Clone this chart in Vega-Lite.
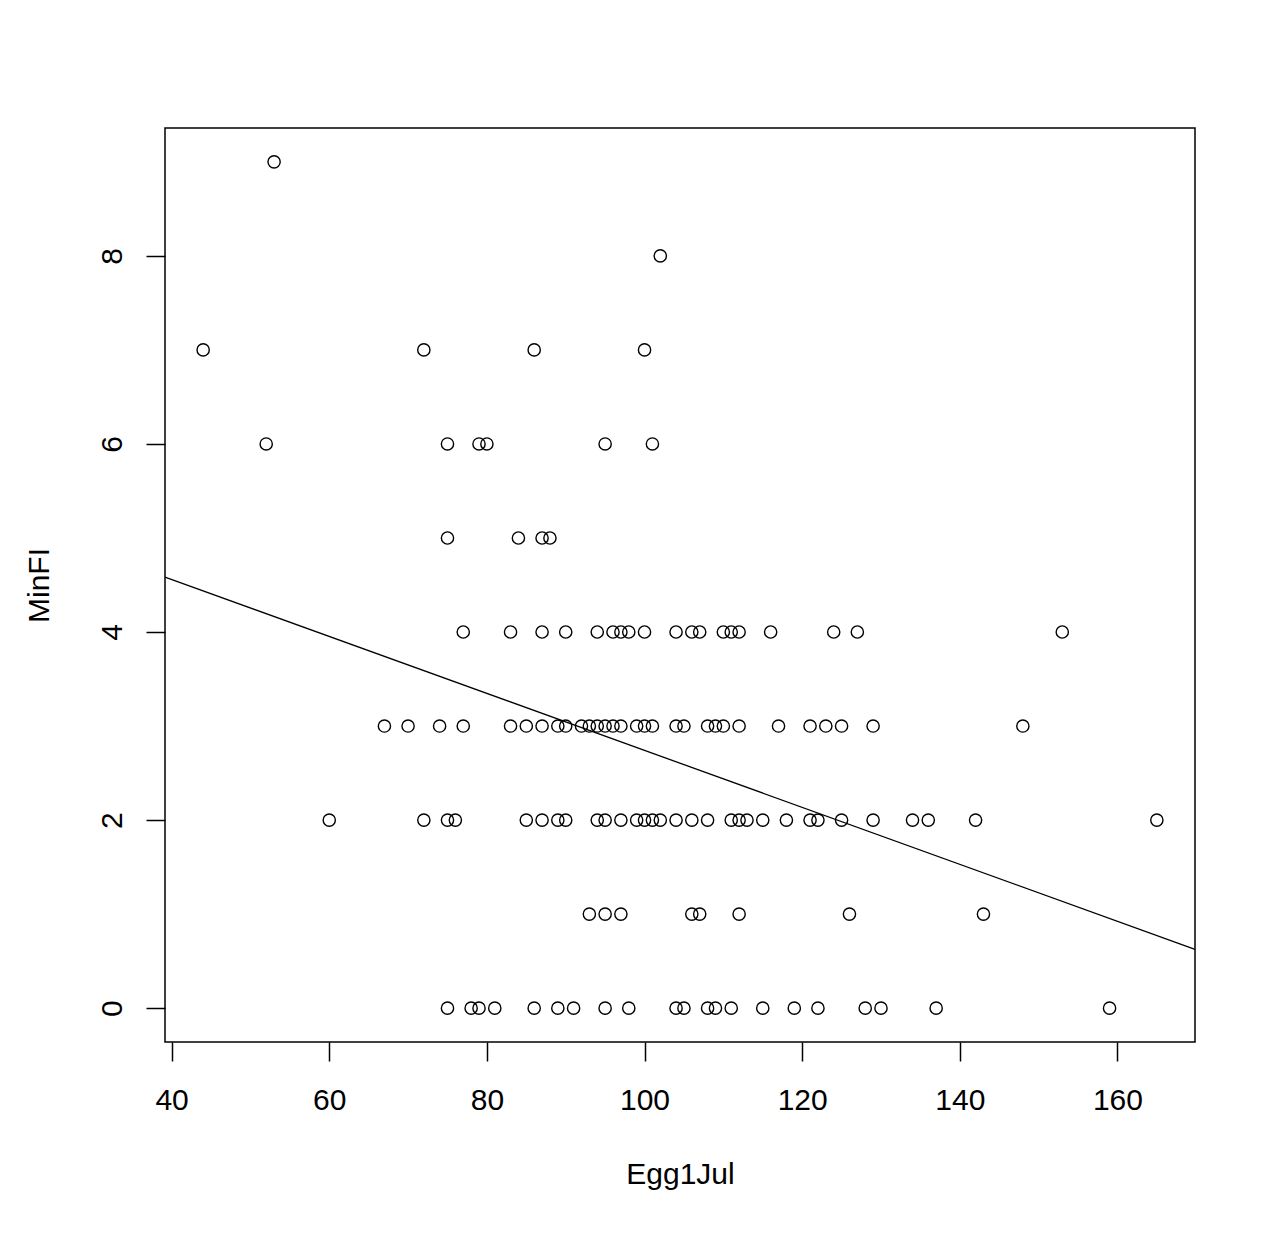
{
  "$schema": "https://vega.github.io/schema/vega-lite/v6.json",
  "autosize": {"type": "none"},
  "padding": {"left": 165, "top": 128, "right": 83, "bottom": 197},
  "width": 1030,
  "height": 914,
  "background": "white",
  "config": {
    "font": "Liberation Sans",
    "view": {"stroke": "#000000", "strokeWidth": 1.5}
  },
  "datasets": {
    "pts": [
      {"Egg1Jul": 53, "MinFI": 9},
      {"Egg1Jul": 102, "MinFI": 8},
      {"Egg1Jul": 44, "MinFI": 7}, {"Egg1Jul": 72, "MinFI": 7}, {"Egg1Jul": 86, "MinFI": 7}, {"Egg1Jul": 100, "MinFI": 7},
      {"Egg1Jul": 52, "MinFI": 6}, {"Egg1Jul": 75, "MinFI": 6}, {"Egg1Jul": 79, "MinFI": 6}, {"Egg1Jul": 80, "MinFI": 6}, {"Egg1Jul": 95, "MinFI": 6}, {"Egg1Jul": 101, "MinFI": 6},
      {"Egg1Jul": 75, "MinFI": 5}, {"Egg1Jul": 84, "MinFI": 5}, {"Egg1Jul": 87, "MinFI": 5}, {"Egg1Jul": 88, "MinFI": 5},
      {"Egg1Jul": 77, "MinFI": 4}, {"Egg1Jul": 83, "MinFI": 4}, {"Egg1Jul": 87, "MinFI": 4}, {"Egg1Jul": 90, "MinFI": 4}, {"Egg1Jul": 94, "MinFI": 4}, {"Egg1Jul": 96, "MinFI": 4}, {"Egg1Jul": 97, "MinFI": 4}, {"Egg1Jul": 98, "MinFI": 4}, {"Egg1Jul": 100, "MinFI": 4}, {"Egg1Jul": 104, "MinFI": 4}, {"Egg1Jul": 106, "MinFI": 4}, {"Egg1Jul": 107, "MinFI": 4}, {"Egg1Jul": 110, "MinFI": 4}, {"Egg1Jul": 111, "MinFI": 4}, {"Egg1Jul": 112, "MinFI": 4}, {"Egg1Jul": 116, "MinFI": 4}, {"Egg1Jul": 124, "MinFI": 4}, {"Egg1Jul": 127, "MinFI": 4}, {"Egg1Jul": 153, "MinFI": 4},
      {"Egg1Jul": 67, "MinFI": 3}, {"Egg1Jul": 70, "MinFI": 3}, {"Egg1Jul": 74, "MinFI": 3}, {"Egg1Jul": 77, "MinFI": 3}, {"Egg1Jul": 83, "MinFI": 3}, {"Egg1Jul": 85, "MinFI": 3}, {"Egg1Jul": 87, "MinFI": 3}, {"Egg1Jul": 89, "MinFI": 3}, {"Egg1Jul": 90, "MinFI": 3}, {"Egg1Jul": 92, "MinFI": 3}, {"Egg1Jul": 93, "MinFI": 3}, {"Egg1Jul": 94, "MinFI": 3}, {"Egg1Jul": 95, "MinFI": 3}, {"Egg1Jul": 96, "MinFI": 3}, {"Egg1Jul": 97, "MinFI": 3}, {"Egg1Jul": 99, "MinFI": 3}, {"Egg1Jul": 100, "MinFI": 3}, {"Egg1Jul": 101, "MinFI": 3}, {"Egg1Jul": 104, "MinFI": 3}, {"Egg1Jul": 105, "MinFI": 3}, {"Egg1Jul": 108, "MinFI": 3}, {"Egg1Jul": 109, "MinFI": 3}, {"Egg1Jul": 110, "MinFI": 3}, {"Egg1Jul": 112, "MinFI": 3}, {"Egg1Jul": 117, "MinFI": 3}, {"Egg1Jul": 121, "MinFI": 3}, {"Egg1Jul": 123, "MinFI": 3}, {"Egg1Jul": 125, "MinFI": 3}, {"Egg1Jul": 129, "MinFI": 3}, {"Egg1Jul": 148, "MinFI": 3},
      {"Egg1Jul": 60, "MinFI": 2}, {"Egg1Jul": 72, "MinFI": 2}, {"Egg1Jul": 75, "MinFI": 2}, {"Egg1Jul": 76, "MinFI": 2}, {"Egg1Jul": 85, "MinFI": 2}, {"Egg1Jul": 87, "MinFI": 2}, {"Egg1Jul": 89, "MinFI": 2}, {"Egg1Jul": 90, "MinFI": 2}, {"Egg1Jul": 94, "MinFI": 2}, {"Egg1Jul": 95, "MinFI": 2}, {"Egg1Jul": 97, "MinFI": 2}, {"Egg1Jul": 99, "MinFI": 2}, {"Egg1Jul": 100, "MinFI": 2}, {"Egg1Jul": 101, "MinFI": 2}, {"Egg1Jul": 102, "MinFI": 2}, {"Egg1Jul": 104, "MinFI": 2}, {"Egg1Jul": 106, "MinFI": 2}, {"Egg1Jul": 108, "MinFI": 2}, {"Egg1Jul": 111, "MinFI": 2}, {"Egg1Jul": 112, "MinFI": 2}, {"Egg1Jul": 113, "MinFI": 2}, {"Egg1Jul": 115, "MinFI": 2}, {"Egg1Jul": 118, "MinFI": 2}, {"Egg1Jul": 121, "MinFI": 2}, {"Egg1Jul": 122, "MinFI": 2}, {"Egg1Jul": 125, "MinFI": 2}, {"Egg1Jul": 129, "MinFI": 2}, {"Egg1Jul": 134, "MinFI": 2}, {"Egg1Jul": 136, "MinFI": 2}, {"Egg1Jul": 142, "MinFI": 2}, {"Egg1Jul": 165, "MinFI": 2},
      {"Egg1Jul": 93, "MinFI": 1}, {"Egg1Jul": 95, "MinFI": 1}, {"Egg1Jul": 97, "MinFI": 1}, {"Egg1Jul": 106, "MinFI": 1}, {"Egg1Jul": 107, "MinFI": 1}, {"Egg1Jul": 112, "MinFI": 1}, {"Egg1Jul": 126, "MinFI": 1}, {"Egg1Jul": 143, "MinFI": 1},
      {"Egg1Jul": 75, "MinFI": 0}, {"Egg1Jul": 78, "MinFI": 0}, {"Egg1Jul": 79, "MinFI": 0}, {"Egg1Jul": 81, "MinFI": 0}, {"Egg1Jul": 86, "MinFI": 0}, {"Egg1Jul": 89, "MinFI": 0}, {"Egg1Jul": 91, "MinFI": 0}, {"Egg1Jul": 95, "MinFI": 0}, {"Egg1Jul": 98, "MinFI": 0}, {"Egg1Jul": 104, "MinFI": 0}, {"Egg1Jul": 105, "MinFI": 0}, {"Egg1Jul": 108, "MinFI": 0}, {"Egg1Jul": 109, "MinFI": 0}, {"Egg1Jul": 111, "MinFI": 0}, {"Egg1Jul": 115, "MinFI": 0}, {"Egg1Jul": 119, "MinFI": 0}, {"Egg1Jul": 122, "MinFI": 0}, {"Egg1Jul": 128, "MinFI": 0}, {"Egg1Jul": 130, "MinFI": 0}, {"Egg1Jul": 137, "MinFI": 0}, {"Egg1Jul": 159, "MinFI": 0}
    ],
    "fit": [
      {"Egg1Jul": 39.16, "MinFI": 4.584},
      {"Egg1Jul": 169.84, "MinFI": 0.626}
    ]
  },
  "layer": [
    {
      "data": {"name": "pts"},
      "mark": {"type": "point", "shape": "circle", "filled": false, "color": "#000000", "size": 150, "strokeWidth": 1.4, "opacity": 1},
      "encoding": {
        "x": {
          "field": "Egg1Jul", "type": "quantitative",
          "scale": {"domain": [39.16, 169.84], "nice": false, "zero": false},
          "axis": {
            "title": "Egg1Jul", "values": [40, 60, 80, 100, 120, 140, 160], "format": "d",
            "grid": false, "domain": false,
            "tickSize": 19, "tickColor": "#000000", "tickWidth": 1.5,
            "labelFontSize": 30, "labelColor": "#000000", "labelPadding": 24,
            "titleFontSize": 30, "titleFontWeight": "normal", "titleColor": "#000000", "titlePadding": 44
          }
        },
        "y": {
          "field": "MinFI", "type": "quantitative",
          "scale": {"domain": [-0.36, 9.36], "nice": false, "zero": false},
          "axis": {
            "title": "MinFI", "values": [0, 2, 4, 6, 8], "format": "d",
            "grid": false, "domain": false,
            "tickSize": 19, "tickColor": "#000000", "tickWidth": 1.5,
            "labelFontSize": 30, "labelColor": "#000000", "labelPadding": 19,
            "labelAngle": 270, "labelAlign": "center", "labelBaseline": "bottom",
            "titleFontSize": 30, "titleFontWeight": "normal", "titleColor": "#000000", "titlePadding": 43
          }
        }
      }
    },
    {
      "data": {"name": "fit"},
      "mark": {"type": "line", "color": "#000000", "strokeWidth": 1.3},
      "encoding": {
        "x": {"field": "Egg1Jul", "type": "quantitative"},
        "y": {"field": "MinFI", "type": "quantitative"}
      }
    }
  ]
}
